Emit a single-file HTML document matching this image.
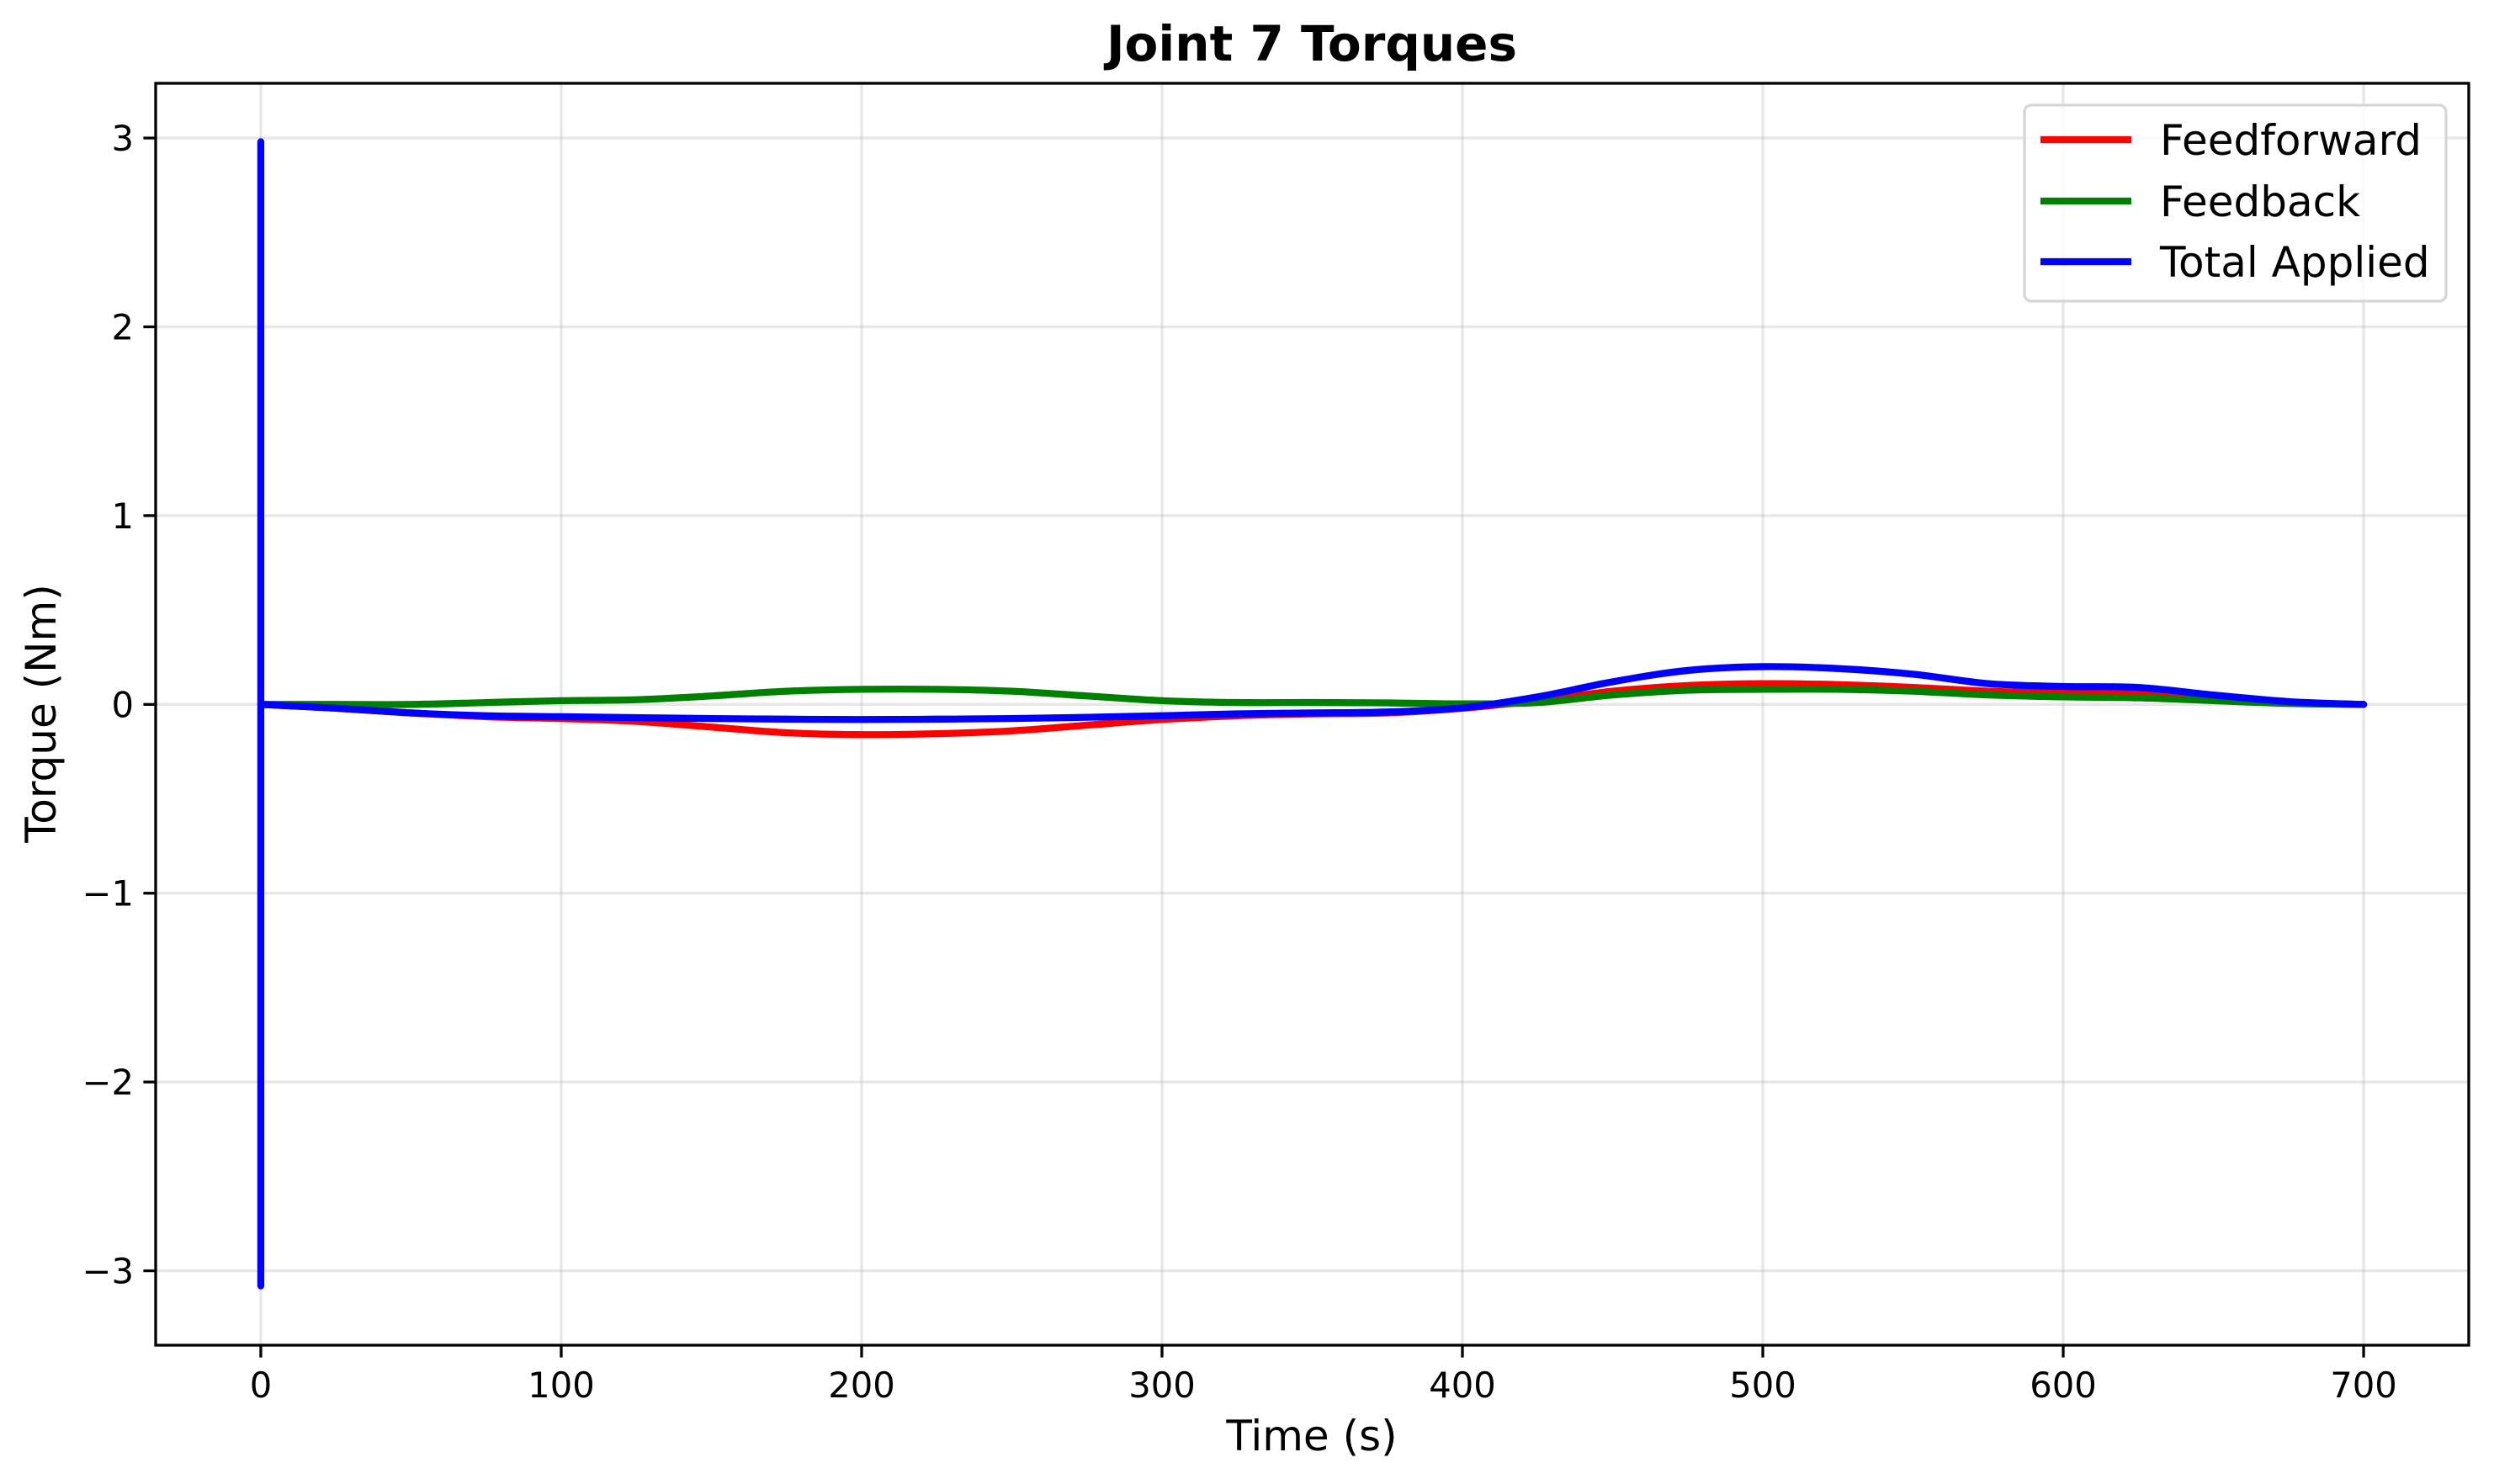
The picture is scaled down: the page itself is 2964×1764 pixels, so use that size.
<!DOCTYPE html>
<html><head><meta charset="utf-8">
<style>
html,body{margin:0;padding:0;background:#fff;}
svg{display:block;font-family:"DejaVu Sans","Liberation Sans",sans-serif;}
</style></head>
<body>
<svg id="chart" width="2964" height="1764" viewBox="0 0 2964 1764" xmlns="http://www.w3.org/2000/svg">
<rect width="2964" height="1764" fill="#fff"/>
<g id="grid"></g>
<g id="series"></g>
<rect x="185" y="99" width="2749" height="1500" fill="none" stroke="#000" stroke-width="3.3"/>
<g id="ticks"></g>
<text x="1559" y="72" font-size="58" font-weight="bold" text-anchor="middle">Joint 7 Torques</text>
<text x="1559" y="1724" font-size="50" text-anchor="middle">Time (s)</text>
<text x="0" y="0" font-size="50" text-anchor="middle" transform="translate(66,848) rotate(-90)">Torque (Nm)</text>
<g>
<rect x="2406" y="125" width="501" height="233" rx="8" fill="#fff" fill-opacity="0.8" stroke="#d6d6d6" stroke-width="3.3"/>
<line x1="2425" y1="166" x2="2533" y2="166" stroke="#ff0000" stroke-width="8.3"/>
<text x="2567" y="184" font-size="50">Feedforward</text>
<line x1="2425" y1="239" x2="2533" y2="239" stroke="#008000" stroke-width="8.3"/>
<text x="2567" y="257" font-size="50">Feedback</text>
<line x1="2425" y1="311" x2="2533" y2="311" stroke="#0000ff" stroke-width="8.3"/>
<text x="2567" y="329" font-size="50">Total Applied</text>
</g>
</svg>
<script>
const times = [0,25,50,75,100,125,150,175,200,225,250,275,300,325,350,375,400,425,450,475,500,525,550,575,600,625,650,675,700];
const feedforward = [0,-0.02,-0.045,-0.065,-0.075,-0.09,-0.12,-0.15,-0.16,-0.155,-0.14,-0.11,-0.08,-0.06,-0.05,-0.045,-0.02,0.02,0.07,0.1,0.11,0.105,0.09,0.07,0.06,0.055,0.03,0.01,0];
const feedback = [0,0,0,0.01,0.02,0.025,0.045,0.07,0.08,0.08,0.07,0.045,0.02,0.01,0.01,0.008,0.003,0.01,0.05,0.075,0.08,0.08,0.07,0.05,0.04,0.035,0.02,0.005,0];
const totalApplied = [0,-0.02,-0.045,-0.06,-0.065,-0.07,-0.075,-0.078,-0.08,-0.078,-0.075,-0.068,-0.06,-0.05,-0.045,-0.04,-0.018,0.04,0.12,0.18,0.2,0.19,0.16,0.11,0.095,0.09,0.05,0.015,0];
const spikeValues = [2.98,-3.08];
const spikeTime = 0;
const xTicks = [0,100,200,300,400,500,600,700];
const yTicks = [-3,-2,-1,0,1,2,3];

const L=185,R=2934,T=99,B=1599,xmin=-35,xmax=735,ymin=-3.394,ymax=3.29;
const sx=v=>L+(v-xmin)/(xmax-xmin)*(R-L);
const sy=v=>B-(v-ymin)/(ymax-ymin)*(B-T);
const NS='http://www.w3.org/2000/svg';
function mk(tag,attrs,parent){const e=document.createElementNS(NS,tag);for(const k in attrs)e.setAttribute(k,attrs[k]);parent.appendChild(e);return e;}
const grid=document.getElementById('grid'),ticks=document.getElementById('ticks'),series=document.getElementById('series');
xTicks.forEach(t=>{
  const x=sx(t);
  const g=mk('line',{x1:x,y1:T,x2:x,y2:B,stroke:'#b0b0b0','stroke-opacity':0.3,'stroke-width':3.3},grid);
  
  
  const tk=mk('line',{x1:x,y1:B,x2:x,y2:B+14.6,stroke:'#000','stroke-width':3.3},ticks);
  
  
  const tx=mk('text',{x:x,y:B+62,'font-size':41.7,'text-anchor':'middle'},ticks);
  tx.textContent=String(t);
  
  
});
yTicks.forEach(t=>{
  const y=sy(t);
  const g=mk('line',{x1:L,y1:y,x2:R,y2:y,stroke:'#b0b0b0','stroke-opacity':0.3,'stroke-width':3.3},grid);
  
  
  const tk=mk('line',{x1:L-14.6,y1:y,x2:L,y2:y,stroke:'#000','stroke-width':3.3},ticks);
  
  
  const tx=mk('text',{x:L-26,y:y+15,'font-size':41.7,'text-anchor':'end'},ticks);
  tx.textContent=t<0?'\u2212'+Math.abs(t):String(t);
  
  
});
function smoothPath(xs,ys){
  const p=xs.map((t,i)=>[sx(t),sy(ys[i])]);
  let d='M'+p[0][0]+','+p[0][1];
  for(let i=0;i<p.length-1;i++){
    const p0=p[Math.max(0,i-1)],p1=p[i],p2=p[i+1],p3=p[Math.min(p.length-1,i+2)];
    const c1=[p1[0]+(p2[0]-p0[0])/6,p1[1]+(p2[1]-p0[1])/6];
    const c2=[p2[0]-(p3[0]-p1[0])/6,p2[1]-(p3[1]-p1[1])/6];
    d+=' C'+c1[0]+','+c1[1]+' '+c2[0]+','+c2[1]+' '+p2[0]+','+p2[1];
  }
  return d;
}
const ff=mk('path',{d:smoothPath(times,feedforward),fill:'none',stroke:'#ff0000','stroke-width':8.3,'stroke-linecap':'round','stroke-linejoin':'round'},series);


const fb=mk('path',{d:smoothPath(times,feedback),fill:'none',stroke:'#008000','stroke-width':8.3,'stroke-linecap':'round','stroke-linejoin':'round'},series);


const sp=mk('line',{x1:sx(spikeTime),y1:sy(spikeValues[0]),x2:sx(spikeTime),y2:sy(spikeValues[1]),stroke:'#0000ff','stroke-width':8.3,'stroke-linecap':'round'},series);


const tl=mk('path',{d:smoothPath(times,totalApplied),fill:'none',stroke:'#0000ff','stroke-width':8.3,'stroke-linecap':'round','stroke-linejoin':'round'},series);


</script>
</body></html>
